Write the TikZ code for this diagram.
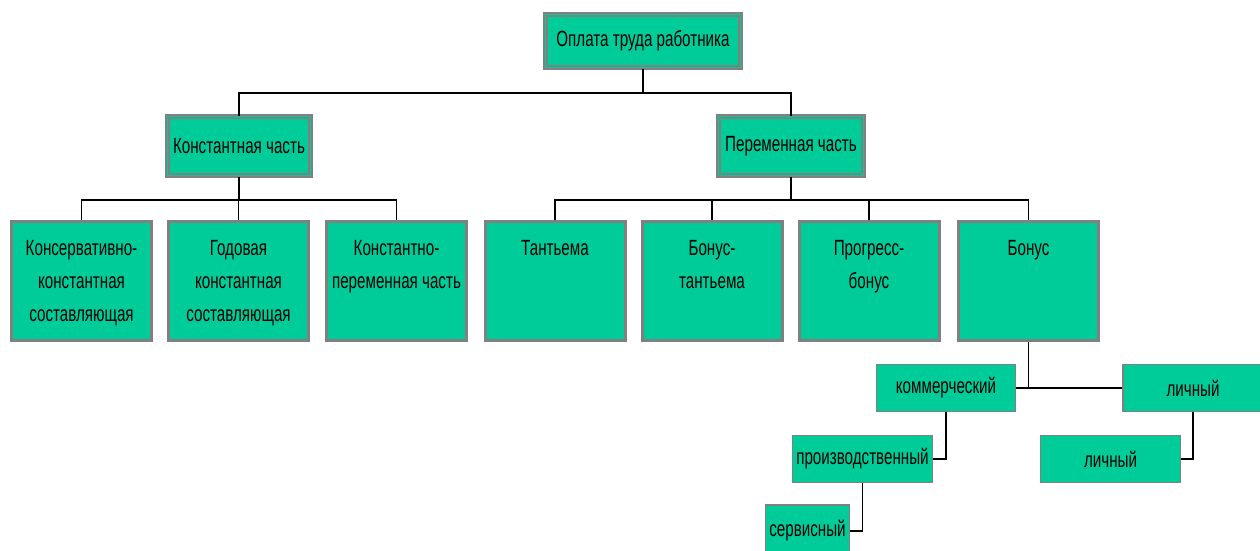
\documentclass[tikz,border=0pt]{standalone}
\usepackage{fontspec}
\setmainfont{Liberation Sans}[FakeStretch=0.69]
\definecolor{boxgreen}{RGB}{0,204,153}
\definecolor{boxgray}{RGB}{128,128,128}
\begin{document}
\begin{tikzpicture}[x=1pt,y=-1pt,
  every node/.style={font=\fontsize{22}{33}\selectfont, inner sep=0pt, align=center},
  topbox/.style={draw=boxgray, line width=2pt, double=boxgreen, double distance=0.8pt, fill=boxgreen},
  midbox/.style={draw=boxgray, line width=3pt, fill=boxgreen, minimum width=140pt, minimum height=119pt},
  lowbox/.style={draw=boxgray, line width=1.2pt, fill=boxgreen, minimum height=47pt},
  conn/.style={draw=black, line width=1.2pt},
  boxtext/.style={anchor=north}
]
\useasboundingbox (0,0) rectangle (1260,551);

% level 1
\node[topbox, minimum width=195pt, minimum height=53pt] (root) at (643,41) {Оплата труда работника};
% level 2
\node[topbox, minimum width=143pt, minimum height=59pt] (cons) at (239,146) {Константная часть};
\node[topbox, minimum width=145pt, minimum height=59pt] (var) at (791,146) {Переменная часть};

% level 3
\node[midbox] (b1) at (81.5,281) {};
\node[midbox] (b2) at (238.5,281) {};
\node[midbox] (b3) at (396.5,281) {};
\node[midbox] (b4) at (555,281) {};
\node[midbox] (b5) at (712,281) {};
\node[midbox] (b6) at (869,281) {};
\node[midbox] (b7) at (1028.5,281) {};

\node[boxtext] (t1) at ([yshift=-20pt]b1.north) {Консервативно-\\константная\\составляющая};
\node[boxtext] (t2) at ([yshift=-20pt]b2.north) {Годовая\\константная\\составляющая};
\node[boxtext] (t3) at ([yshift=-20pt]b3.north) {Константно-\\переменная часть};
\node[boxtext] (t4) at ([yshift=-20pt]b4.north) {Тантьема};
\node[boxtext] (t5) at ([yshift=-20pt]b5.north) {Бонус-\\тантьема};
\node[boxtext] (t6) at ([yshift=-20pt]b6.north) {Прогресс-\\бонус};
\node[boxtext] (t7) at ([yshift=-20pt]b7.north) {Бонус};

% lower level
\node[lowbox, minimum width=139pt] (komm) at (946,388) {коммерческий};
\node[lowbox, minimum width=140pt] (lich1) at (1193,388) {личный};
\node[lowbox, minimum width=140pt] (prod) at (862.5,459) {производственный};
\node[lowbox, minimum width=140pt] (lich2) at (1110.5,459) {личный};
\node[lowbox, minimum width=84pt, minimum height=52pt] (serv) at (807.5,531) {сервисный};

% connectors
\draw[conn] (root.south) -- (root.south |- 0,93);
\draw[conn] (cons.north) -- (cons.north |- 0,93) -| (var.north);
\draw[conn] (cons.south) -- (cons.south |- 0,200);
\draw[conn] (b1.north) -- (b1.north |- 0,200) -| (b3.north);
\draw[conn] (b2.north) -- (b2.north |- 0,200);
\draw[conn] (var.south) -- (var.south |- 0,200);
\draw[conn] (b4.north) -- (b4.north |- 0,200) -| (b7.north);
\draw[conn] (b5.north) -- (b5.north |- 0,200);
\draw[conn] (b6.north) -- (b6.north |- 0,200);
\draw[conn] (b7.south) -- (b7.south |- 0,388);
\draw[conn] (komm.east) -- (lich1.west);
\draw[conn] (komm.south) |- (prod.east);
\draw[conn] (lich1.south) |- (lich2.east);
\draw[conn] (prod.south) |- (serv.east);
\end{tikzpicture}
\end{document}
